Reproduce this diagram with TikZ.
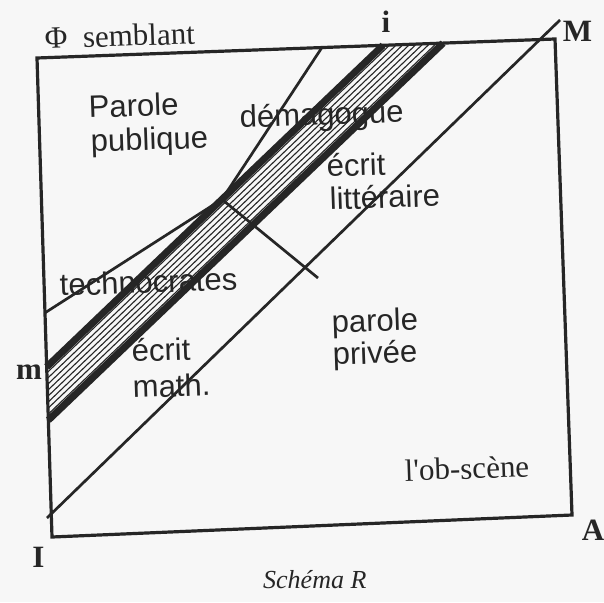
\documentclass[tikz,border=0pt]{standalone}
\usepackage{fontspec}
\setmainfont{Liberation Serif}
\setsansfont{Liberation Sans}
\newfontfamily\plainserif{Liberation Serif}
\usetikzlibrary{calc}
\begin{document}
\begin{tikzpicture}[x=1pt,y=-1pt,
  ink/.style={draw=black!85},
  framel/.style={ink, line width=3.2pt, line join=miter},
  thinl/.style={ink, line width=2.7pt},
  bandedge/.style={ink, line width=7pt},
  hatchl/.style={ink, line width=1.1pt},
  sanslab/.style={font=\sffamily\fontsize{31}{34}\selectfont, text=black!85, inner sep=0pt, anchor=base west, rotate=2},
  seriflab/.style={font=\rmfamily\fontsize{31}{34}\selectfont, text=black!85, inner sep=0pt, anchor=base west, rotate=2},
  ptlab/.style={font=\rmfamily\bfseries\fontsize{31}{34}\selectfont, text=black!85, inner sep=0pt},
  caplab/.style={font=\rmfamily\itshape\fontsize{26}{30}\selectfont, text=black!85, inner sep=0pt, anchor=base west},
]
\fill[gray!6] (0,0) rectangle (604,602);
\useasboundingbox (0,0) rectangle (604,602);

% frame corners
\coordinate (TL) at (37,58);
\coordinate (TR) at (555,39);
\coordinate (BR) at (572,515);
\coordinate (BL) at (52,537);

% points on the frame
\coordinate (dA) at ($(TL)!0.55!(TR)$);
\coordinate (u2) at ($(TL)!0.668!(TR)$);
\coordinate (l2) at ($(TL)!0.784!(TR)$);
\coordinate (u1) at ($(TL)!0.645!(BL)$);
\coordinate (l1) at ($(TL)!0.756!(BL)$);
\coordinate (tL) at ($(TL)!0.532!(BL)$);
\coordinate (P) at ($(u1)!0.521!(u2)$);
\coordinate (X) at (318,278);
\coordinate (Ist) at (47,518);
\coordinate (Mend) at (560,20);

% hatching of the band
\foreach \k in {1,...,8}
  \draw[hatchl] ($(u1)!\k/9!(l1)$) -- ($(u2)!\k/9!(l2)$);
% band edges
\draw[bandedge] (u1) -- (u2);
\draw[bandedge] (l1) -- (l2);

% thin lines
\draw[thinl] (dA) -- (P);
\draw[thinl] (tL) -- (P);
\draw[thinl] (P) -- (X);
\draw[thinl] (Ist) -- (Mend);

% frame
\draw[framel] (TL) -- (TR) -- (BR) -- (BL) -- cycle;

% corner letters
\node[ptlab] (li) at (386,22) {i};
\node[ptlab] (lM) at (577.5,31) {M};
\node[ptlab] (lA) at (593,530) {A};
\node[ptlab] (lI) at (38.5,557) {I};
\node[ptlab] (lm) at (29,372) {m};

% serif labels
\node[seriflab] (phi) at (45,49) {Φ\hskip0.5em semblant};
\node[seriflab] (obs) at (405,481) {\plainserif l'ob-scène};
\node[caplab] (cap) at (263,588) {Schéma R};

% sans labels
\node[sanslab] (pp1) at (89,118) {Parole};
\node[sanslab] (pp2) at (91,152) {publique};
\node[sanslab] (dem) at (240,128) {démagogue};
\node[sanslab] (el1) at (327,177) {écrit};
\node[sanslab] (el2) at (330,210) {littéraire};
\node[sanslab] (tec) at (60,296) {technocrates};
\node[sanslab] (em1) at (132,362) {écrit};
\node[sanslab] (em2) at (133,398) {math.};
\node[sanslab] (pv1) at (332,333) {parole};
\node[sanslab] (pv2) at (333,365) {privée};
\end{tikzpicture}
\end{document}
